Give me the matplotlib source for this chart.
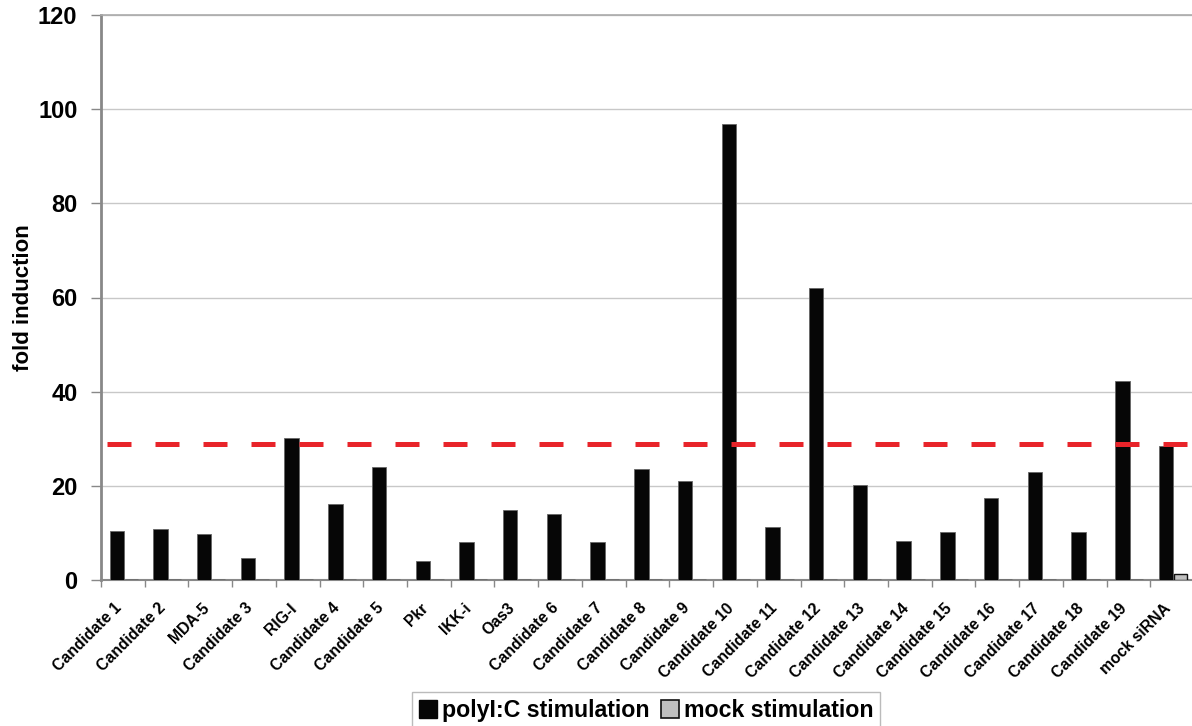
import matplotlib
matplotlib.use("Agg")
import matplotlib.pyplot as plt
import matplotlib.transforms as mtransforms
import numpy as np
from matplotlib.patches import Patch

categories = ["Candidate 1", "Candidate 2", "MDA-5", "Candidate 3", "RIG-I", "Candidate 4",
              "Candidate 5", "Pkr", "IKK-i", "Oas3", "Candidate 6", "Candidate 7",
              "Candidate 8", "Candidate 9", "Candidate 10", "Candidate 11", "Candidate 12",
              "Candidate 13", "Candidate 14", "Candidate 15", "Candidate 16", "Candidate 17",
              "Candidate 18", "Candidate 19", "mock siRNA"]
polyic = [10.4, 10.8, 9.8, 4.7, 30.2, 16.1, 24.0, 4.0, 8.1, 14.9, 14.0, 8.1,
          23.6, 21.0, 96.9, 11.3, 62.0, 20.2, 8.3, 10.2, 17.4, 23.0, 10.2, 42.3, 28.5]
mock = [0]*24 + [1.2]
threshold = 28.9
yticks = [0, 20, 40, 60, 80, 100, 120]

plt.rcParams['font.family'] = ['Liberation Sans', 'DejaVu Sans']
plt.rcParams['font.weight'] = 'bold'

fig = plt.figure(figsize=(11.92, 7.26), dpi=100)
ax = fig.add_axes([101/1192, 1-580/726, 1093/1192, (580-15)/726])

x = np.arange(len(categories))
ax.bar(x - 0.14, polyic, width=0.33, color='#060606', edgecolor='#666666', linewidth=0.6, zorder=3)
ax.bar(x + 0.19, mock, width=0.30, color='#c0c0c0', edgecolor='#111111', linewidth=1.0, zorder=3)

ax.axhline(threshold, color='#e8242a', linewidth=3.6, linestyle=(8.4, (4.8, 4.8)), zorder=4)

ax.set_xlim(-0.5, len(categories) - 0.5)
ax.set_ylim(0, 120)
ax.set_yticks(yticks)
ax.set_yticklabels([str(v) for v in yticks], fontsize=17, fontweight='bold')
ax.yaxis.grid(True, color='#c8c8c8', linewidth=1.0, zorder=0)
ax.set_axisbelow(True)

ax.set_xticks(x)
ax.set_xticklabels(categories, rotation=45, ha='right', rotation_mode='anchor',
                   fontsize=11.3, fontweight='bold')
ax.set_xticks(np.arange(-0.5, len(categories) + 0.5, 1), minor=True)
ax.tick_params(axis='x', which='major', length=0, pad=9)
ax.tick_params(axis='x', which='minor', length=5, color='#888888', width=1)
ax.tick_params(axis='y', length=7, color='#888888', width=1, pad=10)

offset = mtransforms.ScaledTranslation(-0.09, -0.08, fig.dpi_scale_trans)
for lbl in ax.get_xticklabels():
    lbl.set_transform(lbl.get_transform() + offset)

ax.spines['right'].set_visible(False)
ax.spines['top'].set_color('#aaaaaa')
ax.spines['top'].set_linewidth(1.2)
ax.spines['left'].set_color('#888888')
ax.spines['left'].set_linewidth(2)
ax.spines['bottom'].set_color('#888888')
ax.spines['bottom'].set_linewidth(1.5)

ax.set_ylabel('fold induction', fontsize=16, fontweight='bold', labelpad=3)

handles = [Patch(facecolor='#060606', edgecolor='#060606', label='polyI:C stimulation'),
           Patch(facecolor='#c0c0c0', edgecolor='#111111', linewidth=1.2, label='mock stimulation')]
leg = fig.legend(handles=handles, loc='upper center', bbox_to_anchor=(646/1192, 1-692/726),
                 ncol=2, frameon=True, fancybox=False, edgecolor='#aaaaaa',
                 prop={'size': 16.7, 'weight': 'bold'}, handlelength=0.8, handleheight=0.8,
                 handletextpad=0.2, columnspacing=0.5, borderpad=0.3, borderaxespad=0)

fig.savefig('out.png', dpi=100)
